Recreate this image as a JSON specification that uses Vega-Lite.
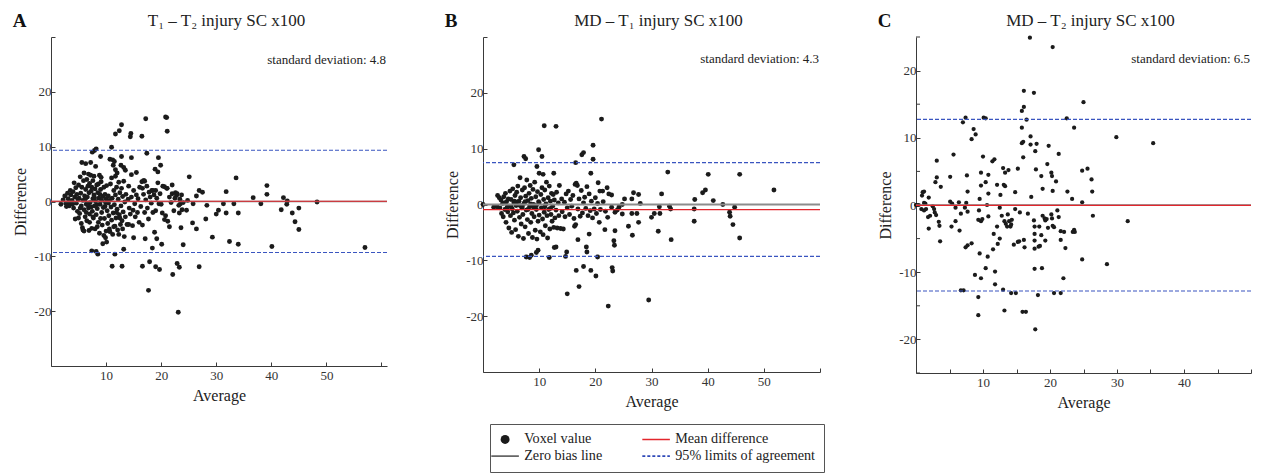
{
"$schema": "https://vega.github.io/schema/vega-lite/v6.json",
"padding": {"left": 12, "top": 11, "right": 5, "bottom": 0},
"spacing": 56,
"config": {
 "font": "Liberation Serif",
 "view": {"stroke": null},
 "axis": {"grid": false, "domainColor": "#3a3a3a", "tickColor": "#3a3a3a", "tickSize": -4, "labelFontSize": 13, "labelColor": "#333333", "labelPadding": 4, "labelOverlap": false, "titleFontSize": 16, "titleFontWeight": "normal", "titleColor": "#222222", "labelFont": "Liberation Serif", "titleFont": "Liberation Serif"},
 "axisBottom": {"labelPadding": 7, "titlePadding": 5},
 "title": {"font": "Liberation Serif", "fontSize": 19, "fontWeight": "bold", "color": "#111111", "anchor": "start", "frame": "bounds", "offset": -20},
 "legend": {"title": null, "columns": 2, "strokeColor": "#555555", "padding": 8, "columnPadding": 36, "rowPadding": 2, "labelFont": "Liberation Serif", "labelFontSize": 14.2, "labelColor": "#222222", "labelOffset": 12}
},
"datasets": {
"A": [
{"a":17.2,"d":15.1},{"a":20.8,"d":15.4},{"a":21.0,"d":15.3},{"a":21.1,"d":12.8},{"a":12.8,"d":14.0},{"a":12.4,"d":12.9},{"a":11.7,"d":12.3},{"a":14.5,"d":12.4},{"a":14.4,"d":11.8},{"a":16.5,"d":11.9},{"a":11.0,"d":9.9},{"a":7.9,"d":9.3},{"a":8.2,"d":9.6},{"a":7.5,"d":9.0},{"a":17.4,"d":8.8},{"a":14.6,"d":8.0},{"a":19.5,"d":8.0},{"a":19.9,"d":6.6},{"a":18.9,"d":5.9},{"a":19.4,"d":5.4},{"a":25.1,"d":4.5},{"a":33.6,"d":4.3},{"a":39.2,"d":2.9},{"a":39.2,"d":1.3},{"a":36.7,"d":0.7},{"a":42.2,"d":0.7},{"a":42.9,"d":0.1},{"a":42.8,"d":-0.5},{"a":38.1,"d":-0.4},{"a":48.3,"d":-0.1},{"a":41.8,"d":-1.5},{"a":43.8,"d":-2.1},{"a":45.0,"d":-1.2},{"a":44.3,"d":-3.7},{"a":45.0,"d":-5.1},{"a":40.1,"d":-8.2},{"a":57.0,"d":-8.4},{"a":34.0,"d":-7.8},{"a":32.4,"d":-7.3},{"a":29.3,"d":-6.5},{"a":31.8,"d":1.8},{"a":31.8,"d":-2.1},{"a":31.3,"d":-0.4},{"a":33.2,"d":-0.4},{"a":34.0,"d":-2.1},{"a":30.4,"d":-1.6},{"a":30.0,"d":-2.3},{"a":28.3,"d":-0.7},{"a":28.1,"d":-3.2},{"a":26.9,"d":2.0},{"a":27.5,"d":1.7},{"a":26.4,"d":1.0},{"a":25.8,"d":-0.4},{"a":25.7,"d":-3.9},{"a":26.4,"d":-5.0},{"a":26.9,"d":-11.9},{"a":23.3,"d":-12.0},{"a":23.1,"d":-20.2},{"a":22.9,"d":-11.3},{"a":22.1,"d":-13.3},{"a":23.6,"d":-4.8},{"a":24.0,"d":-7.9},{"a":17.7,"d":-16.2},{"a":19.7,"d":-12.4},{"a":19.0,"d":-11.9},{"a":17.9,"d":-11.0},{"a":16.6,"d":-11.8},{"a":12.9,"d":-11.8},{"a":11.1,"d":-11.8},{"a":11.6,"d":-9.6},{"a":13.2,"d":-8.7},{"a":8.5,"d":-9.6},{"a":7.4,"d":-9.0},{"a":8.2,"d":-9.1},{"a":9.4,"d":-7.7},{"a":10.1,"d":-7.4},{"a":18.4,"d":-8.5},{"a":20.1,"d":-7.8},{"a":18.8,"d":-5.6},{"a":19.2,"d":-6.8},{"a":17.1,"d":-6.8},{"a":21.5,"d":-4.6},{"a":20.2,"d":-2.1},
{"a":22.6,"d":1.6},{"a":22.8,"d":1.1},{"a":22.9,"d":1.4},{"a":23.7,"d":1.2},{"a":23.4,"d":0.4},{"a":24.8,"d":0.2},{"a":23.2,"d":-0.7},{"a":23.5,"d":-0.4},{"a":24.0,"d":-0.2},{"a":23.8,"d":-1.5},{"a":23.3,"d":-2.1},{"a":24.6,"d":-1.6},{"a":20.6,"d":2.7},{"a":21.1,"d":2.4},{"a":22.0,"d":3.0},{"a":18.5,"d":2.0},{"a":19.0,"d":2.0},{"a":17.0,"d":3.7},{"a":16.8,"d":3.8},{"a":16.6,"d":2.4},
{"a":1.8,"d":-0.5},{"a":2.2,"d":0.3},{"a":2.5,"d":1.0},{"a":2.7,"d":-0.3},{"a":3.0,"d":1.5},{"a":3.1,"d":0.5},{"a":3.3,"d":-0.8},{"a":3.5,"d":2.0},{"a":3.6,"d":1.2},{"a":3.8,"d":0.2},{"a":3.9,"d":-0.5},{"a":4.0,"d":1.8},{"a":4.1,"d":-1.2},{"a":4.2,"d":3.4},{"a":4.3,"d":0.8},{"a":4.4,"d":-3.2},{"a":4.5,"d":2.5},{"a":4.6,"d":-0.3},{"a":4.7,"d":1.3},{"a":4.8,"d":-1.8},
{"a":5.0,"d":3.0},{"a":5.1,"d":0.6},{"a":5.2,"d":-2.2},{"a":5.3,"d":4.5},{"a":5.4,"d":1.5},{"a":5.5,"d":-0.8},{"a":5.6,"d":7.1},{"a":5.6,"d":2.6},{"a":5.7,"d":-4.8},{"a":5.8,"d":-5.2},{"a":5.8,"d":0.2},{"a":5.9,"d":3.8},{"a":6.0,"d":-1.5},{"a":6.0,"d":5.2},{"a":6.1,"d":1.0},{"a":6.2,"d":-2.8},{"a":6.3,"d":6.9},{"a":6.3,"d":2.2},{"a":6.4,"d":-0.5},{"a":6.5,"d":4.0},{"a":6.5,"d":-3.5},{"a":6.6,"d":0.8},{"a":6.7,"d":2.8},{"a":6.8,"d":-1.2},{"a":6.8,"d":5.0},{"a":6.9,"d":1.6},{"a":7.0,"d":-2.3},{"a":7.0,"d":3.3},{"a":7.1,"d":-0.2},{"a":7.2,"d":4.8},{"a":7.2,"d":7.1},{"a":7.3,"d":1.9},{"a":7.4,"d":-4.9},{"a":7.4,"d":2.6},{"a":7.5,"d":-1.8},{"a":7.6,"d":0.5},{"a":7.6,"d":3.8},{"a":7.7,"d":-3.0},{"a":7.8,"d":4.6},{"a":7.8,"d":1.2},{"a":7.9,"d":-0.8},{"a":8.0,"d":2.3},{"a":8.0,"d":-5.0},{"a":8.1,"d":6.4},{"a":8.1,"d":0.0},{"a":8.2,"d":-2.4},{"a":8.3,"d":3.0},{"a":8.4,"d":-1.3},{"a":8.5,"d":1.6},{"a":8.6,"d":3.2},{"a":8.6,"d":-3.8},{"a":8.7,"d":0.6},{"a":8.8,"d":4.8},{"a":8.8,"d":-5.8},{"a":8.9,"d":-0.5},{"a":9.0,"d":8.2},{"a":9.0,"d":2.2},{"a":9.1,"d":4.4},{"a":9.1,"d":3.6},{"a":9.2,"d":-2.0},{"a":9.3,"d":-4.3},{"a":9.4,"d":0.9},{"a":9.5,"d":-1.1},{"a":9.6,"d":-6.2},{"a":9.6,"d":2.6},{"a":9.7,"d":-3.1},{"a":9.8,"d":1.3},{"a":9.9,"d":-0.2},{"a":10.0,"d":-5.4},{"a":10.0,"d":0.5},{"a":10.1,"d":2.9},{"a":10.2,"d":-1.7},{"a":10.3,"d":-4.0},{"a":10.4,"d":1.0},{"a":10.5,"d":-2.6},{"a":10.6,"d":0.2},{"a":10.7,"d":7.7},{"a":10.7,"d":-5.5},{"a":10.8,"d":3.2},{"a":10.9,"d":-1.0},{"a":11.0,"d":-3.4},{"a":11.0,"d":4.3},{"a":11.1,"d":0.6},{"a":11.2,"d":7.6},{"a":11.2,"d":-6.0},{"a":11.3,"d":6.6},{"a":11.3,"d":-2.1},{"a":11.4,"d":2.0},{"a":11.5,"d":7.3},{"a":11.5,"d":-0.6},{"a":11.6,"d":-4.5},{"a":11.7,"d":5.8},{"a":11.7,"d":4.6},{"a":11.7,"d":1.2},{"a":11.8,"d":-3.0},{"a":11.9,"d":2.6},{"a":12.0,"d":5.2},{"a":12.0,"d":-1.4},{"a":12.1,"d":-5.2},{"a":12.2,"d":0.4},{"a":12.3,"d":3.5},{"a":12.4,"d":-2.4},{"a":12.5,"d":1.6},{"a":12.6,"d":-4.2},{"a":12.7,"d":6.6},{"a":12.7,"d":-0.8},{"a":12.8,"d":8.2},{"a":12.8,"d":2.4},{"a":12.9,"d":-3.5},{"a":13.0,"d":0.9},{"a":13.1,"d":-1.9},{"a":13.2,"d":6.2},{"a":13.2,"d":3.7},{"a":13.3,"d":-6.4},{"a":13.4,"d":-0.1},{"a":13.5,"d":5.7},{"a":13.5,"d":-2.8},{"a":13.6,"d":1.3},{"a":13.8,"d":-4.2},{"a":14.0,"d":0.4},{"a":14.1,"d":2.8},{"a":14.2,"d":-1.2},{"a":14.4,"d":-2.3},{"a":14.6,"d":4.9},{"a":14.6,"d":0.8},{"a":14.8,"d":-4.4},{"a":14.9,"d":-1.6},{"a":15.0,"d":2.0},{"a":15.2,"d":-0.4},{"a":15.3,"d":-2.8},{"a":15.5,"d":5.3},{"a":15.5,"d":1.2},{"a":15.7,"d":-2.0},{"a":15.8,"d":0.5},{"a":16.0,"d":-3.8},{"a":16.1,"d":2.6},{"a":16.3,"d":-0.9},{"a":16.5,"d":3.6},{"a":16.6,"d":-4.3},{"a":16.8,"d":1.3},{"a":16.9,"d":3.8},{"a":17.0,"d":-2.0},{"a":17.2,"d":0.3},{"a":17.4,"d":2.8},{"a":17.5,"d":-1.2},{"a":17.7,"d":-3.2},{"a":17.8,"d":1.7},{"a":18.0,"d":0.8},{"a":18.2,"d":-0.3},{"a":18.3,"d":2.0},{"a":18.5,"d":-2.0},{"a":18.7,"d":1.2},{"a":19.0,"d":-1.7},{"a":19.2,"d":0.6},{"a":19.4,"d":3.4},{"a":19.6,"d":-0.4},{"a":19.8,"d":1.4},{"a":20.0,"d":-0.5},{"a":20.3,"d":2.8},{"a":20.6,"d":-3.3},{"a":20.8,"d":-2.6},{"a":21.0,"d":2.4},{"a":21.2,"d":-3.6},{"a":21.5,"d":0.8},{"a":21.8,"d":-0.2},{"a":22.0,"d":1.4},{"a":22.3,"d":-1.7},{"a":22.5,"d":0.6},
{"a":2.8,"d":-0.9},{"a":3.4,"d":-0.2},{"a":4.9,"d":0.4},{"a":5.3,"d":-1.2},{"a":6.2,"d":0.4},{"a":6.7,"d":-0.6},{"a":7.3,"d":-1.0},{"a":7.9,"d":0.7},{"a":8.3,"d":-0.6},{"a":8.9,"d":1.3},{"a":9.2,"d":0.2},{"a":9.8,"d":-0.9},{"a":10.4,"d":-0.3},{"a":5.0,"d":-3.0},{"a":5.5,"d":-4.0},{"a":6.9,"d":-5.3},{"a":7.6,"d":-2.8},{"a":8.4,"d":-4.6},{"a":9.0,"d":-3.1},{"a":9.9,"d":-6.6},{"a":10.6,"d":-5.0},{"a":11.4,"d":-4.6},{"a":12.3,"d":-6.0},{"a":13.0,"d":-5.0},{"a":14.1,"d":-4.2},{"a":15.0,"d":-6.6},{"a":11.9,"d":-2.0},{"a":12.5,"d":-3.0},{"a":6.0,"d":-5.4},{"a":6.4,"d":-2.0},{"a":7.0,"d":-3.8}
],
"B": [
{"a":21.1,"d":15.3},{"a":10.9,"d":14.1},{"a":13.0,"d":14.0},{"a":19.6,"d":10.6},{"a":9.9,"d":9.8},{"a":10.5,"d":8.6},{"a":7.3,"d":8.6},{"a":7.6,"d":8.2},{"a":17.9,"d":9.3},{"a":17.6,"d":8.9},{"a":19.6,"d":8.1},{"a":16.5,"d":7.5},{"a":9.6,"d":6.8},{"a":5.5,"d":7.1},{"a":32.9,"d":5.8},{"a":40.1,"d":5.4},{"a":45.7,"d":5.4},{"a":51.8,"d":2.6},{"a":19.2,"d":5.6},{"a":12.6,"d":5.6},{"a":10.0,"d":5.6},{"a":10.7,"d":5.4},{"a":39.6,"d":2.6},{"a":39.1,"d":2.1},{"a":41.0,"d":0.7},{"a":42.7,"d":0.0},{"a":37.7,"d":0.9},{"a":37.6,"d":-0.8},{"a":37.6,"d":-3.0},{"a":43.9,"d":-1.4},{"a":44.0,"d":-2.1},{"a":44.8,"d":-0.5},{"a":44.5,"d":-3.6},{"a":45.7,"d":-6.0},{"a":31.8,"d":1.9},{"a":31.4,"d":-0.4},{"a":31.5,"d":-1.6},{"a":30.5,"d":-1.6},{"a":30.0,"d":-2.3},{"a":31.2,"d":-4.8},{"a":33.2,"d":-0.3},{"a":33.4,"d":-0.8},{"a":33.5,"d":-6.3},{"a":29.5,"d":-17.1},{"a":22.3,"d":-18.2},{"a":15.0,"d":-16.0},{"a":17.1,"d":-14.7},{"a":16.6,"d":-11.8},{"a":17.9,"d":-11.1},{"a":19.2,"d":-11.8},{"a":20.1,"d":-12.8},{"a":23.0,"d":-11.3},{"a":23.1,"d":-11.9},{"a":20.4,"d":-9.4},{"a":14.7,"d":-9.3},{"a":14.9,"d":-8.5},{"a":11.8,"d":-9.5},{"a":9.8,"d":-8.2},{"a":9.5,"d":-8.6},{"a":8.3,"d":-9.5},{"a":7.7,"d":-9.4},{"a":8.6,"d":-9.1},{"a":12.7,"d":-7.7},{"a":13.0,"d":-7.6},{"a":18.4,"d":-7.6},{"a":18.5,"d":-8.5},{"a":18.9,"d":-5.3},{"a":16.9,"d":-6.3},{"a":16.3,"d":-3.9},{"a":16.5,"d":-3.6},{"a":21.7,"d":-4.5},{"a":23.5,"d":-4.7},{"a":23.3,"d":-6.5},{"a":23.4,"d":-7.3},{"a":25.9,"d":-3.9},{"a":26.6,"d":-5.5},{"a":27.7,"d":-3.2},{"a":26.5,"d":1.0},{"a":26.8,"d":2.1},{"a":27.7,"d":1.8},{"a":28.0,"d":0.2},{"a":25.2,"d":1.0},{"a":24.8,"d":0.0},{"a":24.8,"d":-1.7},{"a":26.5,"d":-1.6},{"a":27.4,"d":-1.6},{"a":22.4,"d":1.9},{"a":22.9,"d":1.7},{"a":22.1,"d":3.0},{"a":21.3,"d":2.4},{"a":20.8,"d":2.4},{"a":20.5,"d":3.9},{"a":20.7,"d":-3.2},{"a":22.2,"d":-2.3},{"a":24.2,"d":-0.5},{"a":23.9,"d":-1.0},{"a":23.5,"d":-1.4},{"a":22.9,"d":-0.5},{"a":0.0,"d":0.0},
{"a":1.9,"d":-0.5},{"a":2.5,"d":-0.4},{"a":2.6,"d":1.6},{"a":2.9,"d":1.2},{"a":3.0,"d":-0.6},{"a":3.2,"d":0.8},{"a":3.3,"d":-1.6},{"a":3.5,"d":0.2},{"a":3.6,"d":-2.2},{"a":3.7,"d":1.4},{"a":3.9,"d":-0.9},{"a":4.0,"d":2.0},{"a":4.1,"d":-3.2},{"a":4.2,"d":0.5},{"a":4.4,"d":-1.3},{"a":4.5,"d":1.0},{"a":4.6,"d":-4.2},{"a":4.7,"d":-0.3},{"a":4.8,"d":2.4},{"a":4.9,"d":-2.0},{"a":5.0,"d":0.9},{"a":5.1,"d":-5.0},{"a":5.2,"d":-0.8},{"a":5.3,"d":2.8},{"a":5.4,"d":-1.5},{"a":5.5,"d":0.3},{"a":5.6,"d":-2.8},{"a":5.7,"d":1.6},{"a":5.8,"d":-4.5},{"a":5.9,"d":-0.2},{"a":6.0,"d":2.2},{"a":6.1,"d":-1.2},{"a":6.2,"d":3.3},{"a":6.3,"d":-5.7},{"a":6.4,"d":0.6},{"a":6.5,"d":-2.3},{"a":6.6,"d":4.8},{"a":6.7,"d":1.2},{"a":6.8,"d":-3.5},{"a":6.9,"d":-0.6},{"a":7.0,"d":2.6},{"a":7.1,"d":-1.8},{"a":7.2,"d":-6.1},{"a":7.3,"d":0.2},{"a":7.4,"d":3.0},{"a":7.5,"d":-4.0},{"a":7.6,"d":1.5},{"a":7.7,"d":-1.0},{"a":7.8,"d":4.4},{"a":7.9,"d":-2.7},{"a":8.0,"d":0.7},{"a":8.1,"d":-5.2},{"a":8.2,"d":2.0},{"a":8.3,"d":-0.4},{"a":8.4,"d":3.4},{"a":8.5,"d":-3.2},{"a":8.6,"d":1.1},{"a":8.7,"d":-1.6},{"a":8.8,"d":-5.9},{"a":8.9,"d":2.7},{"a":9.0,"d":0.0},{"a":9.1,"d":-2.2},{"a":9.2,"d":4.0},{"a":9.3,"d":-4.6},{"a":9.4,"d":1.4},{"a":9.5,"d":-0.9},{"a":9.6,"d":-6.2},{"a":9.7,"d":2.3},{"a":9.8,"d":-3.0},{"a":9.9,"d":0.5},{"a":10.0,"d":-1.9},{"a":10.2,"d":-4.9},{"a":10.3,"d":1.8},{"a":10.4,"d":-0.6},{"a":10.5,"d":3.0},{"a":10.6,"d":-2.6},{"a":10.7,"d":-5.4},{"a":10.8,"d":0.9},{"a":10.9,"d":-1.4},{"a":11.0,"d":2.6},{"a":11.1,"d":-3.8},{"a":11.2,"d":0.1},{"a":11.3,"d":4.0},{"a":11.4,"d":-2.0},{"a":11.5,"d":-6.0},{"a":11.6,"d":1.2},{"a":11.7,"d":-0.9},{"a":11.8,"d":3.3},{"a":11.9,"d":-4.4},{"a":12.0,"d":0.6},{"a":12.1,"d":-1.8},{"a":12.2,"d":2.0},{"a":12.3,"d":-3.0},{"a":12.4,"d":-0.3},{"a":12.5,"d":1.8},{"a":12.6,"d":-4.1},{"a":12.7,"d":0.8},{"a":12.8,"d":-2.4},{"a":13.0,"d":-1.0},{"a":13.1,"d":2.2},{"a":13.2,"d":-4.2},{"a":13.4,"d":0.3},{"a":13.5,"d":-2.0},{"a":13.6,"d":3.4},{"a":13.8,"d":-4.3},{"a":14.0,"d":1.0},{"a":14.1,"d":-1.3},{"a":14.3,"d":-4.4},{"a":14.5,"d":0.4},{"a":14.6,"d":-2.2},{"a":14.8,"d":1.9},{"a":15.0,"d":-0.6},{"a":15.2,"d":2.4},{"a":15.4,"d":-1.8},{"a":15.6,"d":0.9},{"a":15.8,"d":-0.3},{"a":16.0,"d":1.6},{"a":16.2,"d":-2.5},{"a":16.4,"d":3.6},{"a":16.6,"d":3.8},{"a":16.8,"d":3.4},{"a":16.9,"d":-0.8},{"a":17.1,"d":1.0},{"a":17.3,"d":-2.1},{"a":17.5,"d":2.5},{"a":17.7,"d":-1.5},{"a":17.9,"d":0.3},{"a":18.1,"d":1.3},{"a":18.3,"d":-0.7},{"a":18.5,"d":3.2},{"a":18.7,"d":-2.0},{"a":18.9,"d":1.9},{"a":19.1,"d":-1.1},{"a":19.3,"d":0.6},{"a":19.5,"d":-2.4},{"a":19.8,"d":-0.8},{"a":20.0,"d":1.2},{"a":20.2,"d":-1.6},{"a":20.4,"d":0.2},{"a":20.9,"d":-0.9},{"a":21.4,"d":0.5},{"a":21.8,"d":-1.2},
{"a":5.0,"d":-0.4},{"a":6.0,"d":0.4},{"a":7.0,"d":-0.4},{"a":8.0,"d":-0.9},{"a":9.0,"d":-0.5},{"a":10.0,"d":0.3},{"a":11.0,"d":-0.4},{"a":12.0,"d":-0.7},{"a":4.3,"d":-0.5},{"a":5.6,"d":0.6},{"a":6.6,"d":-0.2},{"a":7.5,"d":0.5},{"a":8.5,"d":0.1},{"a":9.5,"d":-0.2},{"a":3.8,"d":0.3}
],
"C": [
{"a":17.0,"d":24.9},{"a":20.4,"d":23.5},{"a":16.1,"d":17.0},{"a":17.6,"d":16.7},{"a":25.0,"d":15.3},{"a":16.1,"d":14.6},{"a":15.8,"d":14.0},{"a":16.5,"d":12.7},{"a":7.4,"d":13.0},{"a":7.0,"d":12.3},{"a":10.1,"d":13.0},{"a":10.4,"d":12.9},{"a":22.5,"d":12.9},{"a":23.6,"d":11.5},{"a":8.6,"d":11.3},{"a":8.9,"d":10.5},{"a":8.3,"d":9.8},{"a":15.8,"d":11.5},{"a":17.1,"d":10.2},{"a":16.0,"d":9.4},{"a":15.8,"d":9.2},{"a":17.1,"d":9.0},{"a":18.0,"d":9.1},{"a":19.8,"d":8.8},{"a":17.8,"d":8.0},{"a":21.3,"d":7.6},{"a":29.9,"d":10.1},{"a":35.4,"d":9.2},{"a":16.0,"d":7.1},{"a":10.0,"d":7.2},{"a":5.6,"d":7.5},{"a":3.1,"d":6.6},{"a":11.7,"d":6.8},{"a":11.4,"d":6.5},{"a":17.9,"d":5.3},{"a":15.2,"d":5.4},{"a":13.0,"d":5.5},{"a":13.3,"d":4.8},{"a":13.8,"d":5.2},{"a":9.7,"d":4.8},{"a":10.8,"d":4.5},{"a":18.7,"d":4.3},{"a":20.2,"d":4.8},{"a":20.3,"d":4.3},{"a":19.6,"d":6.1},{"a":24.8,"d":5.1},{"a":25.6,"d":5.4},{"a":26.2,"d":3.8},{"a":26.3,"d":2.0},{"a":26.4,"d":-1.6},{"a":31.6,"d":-2.4},{"a":28.5,"d":-8.8},{"a":24.8,"d":0.4},{"a":23.3,"d":0.9},{"a":22.6,"d":2.0},{"a":20.9,"d":3.5},{"a":18.9,"d":2.4},{"a":20.4,"d":2.1},{"a":17.2,"d":1.2},{"a":14.8,"d":1.9},{"a":13.3,"d":2.8},{"a":13.1,"d":3.0},{"a":12.6,"d":1.5},{"a":12.1,"d":3.0},{"a":10.8,"d":1.7},{"a":10.4,"d":3.4},{"a":9.7,"d":2.9},{"a":9.5,"d":0.9},{"a":7.7,"d":2.0},{"a":7.6,"d":4.4},{"a":5.1,"d":4.2},{"a":2.9,"d":3.4},{"a":3.1,"d":4.1},{"a":3.7,"d":2.7},{"a":1.0,"d":1.9},{"a":1.2,"d":2.0},{"a":1.9,"d":1.1},{"a":0.9,"d":1.4},{"a":0.0,"d":0.0},{"a":0.1,"d":0.0},{"a":0.4,"d":0.0},{"a":0.8,"d":-0.6},{"a":1.2,"d":-0.8},{"a":1.5,"d":-0.6},{"a":1.4,"d":0.2},{"a":1.2,"d":0.3},{"a":1.8,"d":-1.8},{"a":2.1,"d":-1.6},{"a":2.5,"d":-0.2},{"a":2.7,"d":-0.6},{"a":2.8,"d":-1.1},{"a":3.0,"d":-1.5},{"a":1.9,"d":-3.5},{"a":3.4,"d":-2.5},{"a":3.5,"d":-3.1},{"a":3.6,"d":-5.4},{"a":5.1,"d":0.5},{"a":5.4,"d":0.2},{"a":5.9,"d":-0.4},{"a":6.4,"d":0.4},{"a":5.3,"d":-3.2},{"a":5.9,"d":-2.4},{"a":6.7,"d":-1.3},{"a":6.5,"d":-3.8},{"a":7.3,"d":-0.4},{"a":7.5,"d":0.3},{"a":7.7,"d":-1.0},{"a":7.4,"d":-6.3},{"a":7.7,"d":-6.0},{"a":8.3,"d":-5.7},{"a":6.7,"d":-12.7},{"a":7.1,"d":-12.7},{"a":9.4,"d":-0.8},{"a":9.7,"d":-2.4},{"a":9.9,"d":-2.1},{"a":9.3,"d":-2.2},{"a":9.5,"d":-7.2},{"a":10.7,"d":-7.7},{"a":10.6,"d":0.0},{"a":10.8,"d":-1.7},{"a":8.8,"d":-10.4},{"a":9.7,"d":-10.9},{"a":9.3,"d":-13.7},{"a":9.3,"d":-16.4},{"a":10.4,"d":-9.4},{"a":11.8,"d":-9.9},{"a":11.8,"d":-11.8},{"a":11.5,"d":-6.6},{"a":11.6,"d":-4.3},{"a":12.1,"d":-3.2},{"a":12.5,"d":-0.4},{"a":12.5,"d":-5.0},{"a":12.2,"d":-5.8},{"a":12.8,"d":-1.6},{"a":13.2,"d":-2.4},{"a":13.4,"d":-2.8},{"a":13.6,"d":-3.2},{"a":13.9,"d":-2.4},{"a":14.1,"d":-3.2},{"a":14.3,"d":-2.2},{"a":14.2,"d":-2.9},{"a":13.7,"d":-1.4},{"a":13.0,"d":-12.6},{"a":13.2,"d":-15.7},{"a":14.2,"d":-13.1},{"a":14.9,"d":-13.1},{"a":14.6,"d":-5.9},{"a":15.4,"d":-5.4},{"a":15.2,"d":-5.5},{"a":14.8,"d":-0.6},{"a":15.5,"d":-1.1},{"a":16.1,"d":-5.2},{"a":16.2,"d":-6.3},{"a":15.9,"d":-15.9},{"a":16.4,"d":-15.9},{"a":16.7,"d":-1.3},{"a":17.6,"d":-2.3},{"a":17.7,"d":-3.2},{"a":17.7,"d":-4.3},{"a":17.7,"d":-5.3},{"a":17.7,"d":-6.5},{"a":17.7,"d":-9.5},{"a":17.8,"d":-18.5},{"a":18.2,"d":-13.4},{"a":18.3,"d":-6.2},{"a":18.5,"d":-6.1},{"a":18.4,"d":-3.2},{"a":18.7,"d":-4.5},{"a":18.8,"d":-9.4},{"a":18.9,"d":-1.6},{"a":19.2,"d":-2.0},{"a":19.3,"d":-2.3},{"a":19.5,"d":-2.1},{"a":19.3,"d":-5.3},{"a":19.7,"d":-3.4},{"a":20.2,"d":-1.4},{"a":20.3,"d":-2.0},{"a":20.6,"d":-3.3},{"a":20.4,"d":-3.1},{"a":20.6,"d":-13.1},{"a":21.6,"d":-13.1},{"a":21.1,"d":-0.8},{"a":21.3,"d":-1.8},{"a":21.6,"d":-5.2},{"a":21.6,"d":-3.9},{"a":22.1,"d":-4.0},{"a":22.0,"d":-10.9},{"a":22.3,"d":-6.4},{"a":23.6,"d":-3.7},{"a":23.7,"d":-4.0},{"a":23.4,"d":-4.0},{"a":24.8,"d":-8.1}
],
"Cminor": [{"d": -25}, {"d": -15}, {"d": -5}, {"d": 5}, {"d": 15}, {"d": 25}]
},
"hconcat": [
{
 "title": {"text": "A"},
 "width": 336, "height": 329,
 "layer": [
  {"data": {"name": "A"},
   "mark": {"type": "circle", "size": 24, "opacity": 1},
   "encoding": {
    "x": {"field": "a", "type": "quantitative", "scale": {"domain": [0, 61], "nice": false, "zero": false}, "axis": {"title": "Average", "values": [10, 20, 30, 40, 50, 60], "labelExpr": "datum.value >= 60 ? '' : '' + datum.value"}},
    "y": {"field": "d", "type": "quantitative", "scale": {"domain": [-30, 30], "nice": false}, "axis": {"title": "Difference", "values": [-30, -20, -10, 0, 10, 20, 30], "labelExpr": "abs(datum.value) >= 30 ? '' : (datum.value < 0 ? '-' + abs(datum.value) : '' + datum.value)", "titlePadding": 5}},
    "color": {"datum": "Voxel value", "type": "nominal", "scale": {"domain": ["Voxel value", "Zero bias line", "Mean difference", "95% limits of agreement"], "range": ["#1b1b1b", "#808080", "#e3262c", "#3a55c0"]},
     "legend": {"orient": "none", "legendX": 439, "legendY": 387,
      "symbolType": {"expr": "datum.value === 'Voxel value' ? 'circle' : 'stroke'"},
      "symbolSize": {"expr": "datum.value === 'Voxel value' ? 80 : 760"},
      "symbolStrokeColor": {"expr": "datum.value === 'Zero bias line' ? '#666666' : datum.value === 'Mean difference' ? '#e3262c' : datum.value === '95% limits of agreement' ? '#2f49b8' : '#111111'"},
      "symbolStrokeWidth": {"expr": "datum.value === 'Voxel value' ? 0 : 1.6"},
      "symbolDash": {"expr": "datum.value === '95% limits of agreement' ? [3, 2] : [1, 0]"}}}
   }},
  {"data": {"values": [{}]}, "mark": {"type": "rule", "color": "#808080", "strokeWidth": 1.5}, "encoding": {"y": {"datum": 0}}},
  {"data": {"values": [{}]}, "mark": {"type": "rule", "color": "#e3262c", "strokeWidth": 1.2}, "encoding": {"y": {"datum": 0.05}}},
  {"data": {"values": [{}]}, "mark": {"type": "rule", "color": "#3a55c0", "strokeWidth": 1.2, "strokeDash": [4, 2]}, "encoding": {"y": {"datum": 9.35}}},
  {"data": {"values": [{}]}, "mark": {"type": "rule", "color": "#3a55c0", "strokeWidth": 1.2, "strokeDash": [4, 2]}, "encoding": {"y": {"datum": -9.3}}},
  {"data": {"values": [{}]}, "mark": {"type": "text", "align": "right", "baseline": "middle", "fontSize": 13, "color": "#222222", "dx": -1, "text": "standard deviation: 4.8"},
   "encoding": {"x": {"datum": 61, "axis": {"orient": "top", "title": "T₁ – T₂ injury SC x100", "labels": false, "ticks": false, "domain": false, "titlePadding": 8, "titleFontSize": 17, "titleX": 175}}, "y": {"datum": 25.8}}}
 ],
 "resolve": {"axis": {"x": "independent"}}
},
{
 "title": {"text": "B"},
 "width": 337, "height": 335,
 "layer": [
  {"data": {"name": "B"},
   "mark": {"type": "circle", "size": 24, "opacity": 1},
   "encoding": {
    "x": {"field": "a", "type": "quantitative", "scale": {"domain": [0, 60], "nice": false, "zero": false}, "axis": {"title": "Average", "values": [10, 20, 30, 40, 50, 60], "labelExpr": "datum.value >= 60 ? '' : '' + datum.value"}},
    "y": {"field": "d", "type": "quantitative", "scale": {"domain": [-30, 30], "nice": false}, "axis": {"title": "Difference", "values": [-30, -20, -10, 0, 10, 20, 30], "labelExpr": "abs(datum.value) >= 30 ? '' : (datum.value < 0 ? '-' + abs(datum.value) : '' + datum.value)", "titlePadding": 5}},
    "color": {"datum": "Voxel value", "type": "nominal", "scale": {"domain": ["Voxel value", "Zero bias line", "Mean difference", "95% limits of agreement"], "range": ["#1b1b1b", "#808080", "#e3262c", "#3a55c0"]},
     "legend": {"orient": "none", "legendX": 439, "legendY": 387,
      "symbolType": {"expr": "datum.value === 'Voxel value' ? 'circle' : 'stroke'"},
      "symbolSize": {"expr": "datum.value === 'Voxel value' ? 80 : 760"},
      "symbolStrokeColor": {"expr": "datum.value === 'Zero bias line' ? '#666666' : datum.value === 'Mean difference' ? '#e3262c' : datum.value === '95% limits of agreement' ? '#2f49b8' : '#111111'"},
      "symbolStrokeWidth": {"expr": "datum.value === 'Voxel value' ? 0 : 1.6"},
      "symbolDash": {"expr": "datum.value === '95% limits of agreement' ? [3, 2] : [1, 0]"}}}
   }},
  {"data": {"values": [{}]}, "mark": {"type": "rule", "color": "#8c8c8c", "strokeWidth": 2}, "encoding": {"y": {"datum": 0}}},
  {"data": {"values": [{}]}, "mark": {"type": "rule", "color": "#e3262c", "strokeWidth": 1.2}, "encoding": {"y": {"datum": -0.9}}},
  {"data": {"values": [{}]}, "mark": {"type": "rule", "color": "#3a55c0", "strokeWidth": 1.2, "strokeDash": [4, 2]}, "encoding": {"y": {"datum": 7.5}}},
  {"data": {"values": [{}]}, "mark": {"type": "rule", "color": "#3a55c0", "strokeWidth": 1.2, "strokeDash": [4, 2]}, "encoding": {"y": {"datum": -9.3}}},
  {"data": {"values": [{}]}, "mark": {"type": "text", "align": "right", "baseline": "middle", "fontSize": 13, "color": "#222222", "dx": -1, "text": "standard deviation: 4.3"},
   "encoding": {"x": {"datum": 60, "axis": {"orient": "top", "title": "MD – T₁ injury SC x100", "labels": false, "ticks": false, "domain": false, "titlePadding": 8, "titleFontSize": 17, "titleX": 175}}, "y": {"datum": 26.0}}}
 ],
 "resolve": {"axis": {"x": "independent"}}
},
{
 "title": {"text": "C"},
 "width": 335, "height": 336,
 "layer": [
  {"data": {"name": "C"},
   "mark": {"type": "circle", "size": 18, "opacity": 1},
   "encoding": {
    "x": {"field": "a", "type": "quantitative", "scale": {"domain": [0, 50], "nice": false, "zero": false}, "axis": {"title": "Average", "values": [5, 10, 15, 20, 25, 30, 35, 40, 45, 50], "labelExpr": "indexof([10, 20, 30, 40], datum.value) >= 0 ? '' + datum.value : ''"}},
    "y": {"field": "d", "type": "quantitative", "scale": {"domain": [-25, 25], "nice": false}, "axis": {"title": "Difference", "values": [-20, -10, 0, 10, 20], "labelExpr": "datum.value < 0 ? '-' + abs(datum.value) : '' + datum.value", "titlePadding": 5}},
    "color": {"datum": "Voxel value", "type": "nominal", "scale": {"domain": ["Voxel value", "Zero bias line", "Mean difference", "95% limits of agreement"], "range": ["#1b1b1b", "#808080", "#e3262c", "#3a55c0"]},
     "legend": {"orient": "none", "legendX": 439, "legendY": 387,
      "symbolType": {"expr": "datum.value === 'Voxel value' ? 'circle' : 'stroke'"},
      "symbolSize": {"expr": "datum.value === 'Voxel value' ? 80 : 760"},
      "symbolStrokeColor": {"expr": "datum.value === 'Zero bias line' ? '#666666' : datum.value === 'Mean difference' ? '#e3262c' : datum.value === '95% limits of agreement' ? '#2f49b8' : '#111111'"},
      "symbolStrokeWidth": {"expr": "datum.value === 'Voxel value' ? 0 : 1.6"},
      "symbolDash": {"expr": "datum.value === '95% limits of agreement' ? [3, 2] : [1, 0]"}}}
   }},
  {"data": {"name": "Cminor"}, "mark": {"type": "rule", "color": "#3a3a3a", "strokeWidth": 1}, "encoding": {"y": {"field": "d", "type": "quantitative"}, "x": {"datum": 0, "axis": null}, "x2": {"datum": 0.6}}},
  {"data": {"values": [{}]}, "mark": {"type": "rule", "color": "#808080", "strokeWidth": 1.5}, "encoding": {"y": {"datum": 0}}},
  {"data": {"values": [{}]}, "mark": {"type": "rule", "color": "#e3262c", "strokeWidth": 1.2}, "encoding": {"y": {"datum": -0.05}}},
  {"data": {"values": [{}]}, "mark": {"type": "rule", "color": "#3a55c0", "strokeWidth": 1.2, "strokeDash": [4, 2]}, "encoding": {"y": {"datum": 12.75}}},
  {"data": {"values": [{}]}, "mark": {"type": "rule", "color": "#3a55c0", "strokeWidth": 1.2, "strokeDash": [4, 2]}, "encoding": {"y": {"datum": -12.8}}},
  {"data": {"values": [{}]}, "mark": {"type": "text", "align": "right", "baseline": "middle", "fontSize": 13, "color": "#222222", "dx": -1, "text": "standard deviation: 6.5"},
   "encoding": {"x": {"datum": 50, "axis": {"orient": "top", "title": "MD – T₂ injury SC x100", "labels": false, "ticks": false, "domain": false, "titlePadding": 8, "titleFontSize": 17, "titleX": 174}}, "y": {"datum": 21.8}}}
 ],
 "resolve": {"axis": {"x": "independent"}}
}
]
}
